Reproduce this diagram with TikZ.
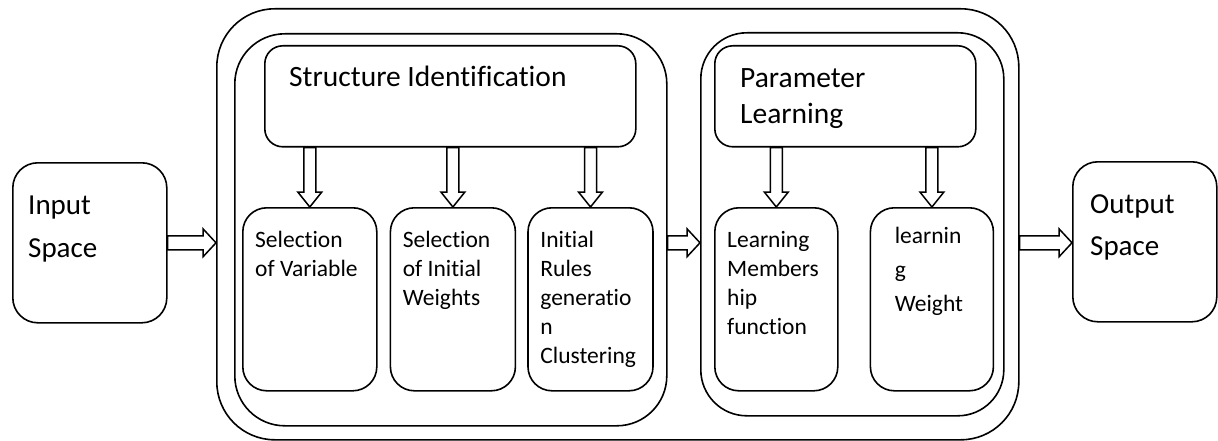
\documentclass[tikz,border=0pt]{standalone}
\usepackage{fontspec}
\setmainfont{Carlito}[Ligatures=NoCommon]
\usetikzlibrary{positioning, calc}
\tikzset{
  panel/.style = {
    rectangle, draw=black, line width=1.6pt,
    inner sep=0pt, anchor=north west
  },
  hdrbox/.style = {
    rectangle, rounded corners=18pt, draw=black, line width=1.6pt,
    inner sep=0pt, anchor=north west, minimum height=101pt
  },
  box/.style = {
    rectangle, rounded corners=24pt, draw=black, line width=1.6pt,
    inner sep=0pt, minimum height=183pt
  },
  iobox/.style = {
    rectangle, rounded corners=25pt, draw=black, line width=1.6pt,
    inner sep=0pt, anchor=north west, minimum height=160pt
  },
  txt/.style = {inner sep=0pt, anchor=north west, align=left,
    font=\fontsize{23.5}{29}\selectfont},
  hdrtxt/.style = {txt, font=\fontsize{29.5}{36}\selectfont},
  iotxt/.style = {txt, font=\fontsize{29}{42.5}\selectfont},
  harr/.style = {draw=black, fill=white, line width=1.5pt,
    to path={let \p1=(\tikztostart), \p2=(\tikztotarget) in
      (\x1,\y1+7pt) -- (\x2-13pt,\y1+7pt) -- (\x2-13pt,\y1+14pt) -- (\x2,\y1)
      -- (\x2-13pt,\y1-14pt) -- (\x2-13pt,\y1-7pt) -- (\x1,\y1-7pt) -- cycle}},
  varr/.style = {draw=black, fill=white, line width=1.5pt,
    to path={let \p1=(\tikztostart), \p2=(\tikztotarget) in
      (\x2-6pt,\y1) -- (\x2-6pt,\y2+15pt) -- (\x2-12pt,\y2+15pt) -- (\x2,\y2)
      -- (\x2+12pt,\y2+15pt) -- (\x2+6pt,\y2+15pt) -- (\x2+6pt,\y1) -- cycle}}
}
\begin{document}
\begin{tikzpicture}[x=1pt, y=-1pt]
\useasboundingbox[fill=white] (0,0) rectangle (1218,441);

% outer frame and the two stages
\node[panel, rounded corners=58pt, minimum width=802pt, minimum height=431pt] (outer) at (216,8) {};
\node[panel, rounded corners=50pt, minimum width=432pt, minimum height=392pt] (sbox) at (234,33) {};
\node[panel, rounded corners=46pt, minimum width=303pt, minimum height=383pt] (pbox) at (700,32) {};

% input / output
\node[iobox, minimum width=154pt] (inp) at (12,162) {};
\node[iotxt] (inpt) at ([shift={(16pt,-34pt)}]inp.north west) {Input\\Space};
\node[iobox, minimum width=144pt] (out) at (1072,161) {};
\node[iotxt] (outt) at ([shift={(18pt,-33pt)}]out.north west) {Output\\Space};

% structure identification
\node[hdrbox, minimum width=371pt] (shdr) at (264,45) {};
\node[hdrtxt] (shdrt) at ([shift={(25pt,-21pt)}]shdr.north west) {Structure Identification};
\node[box, anchor=north west, minimum width=134pt] (v1) at (242,207) {};
\node[box, right=12pt of v1, minimum width=125pt] (v2) {};
\node[box, right=11pt of v2, minimum width=125pt] (v3) {};
\node[txt] (v1t) at ([shift={(13pt,-24pt)}]v1.north west) {Selection\\of Variable};
\node[txt] (v2t) at ([shift={(13pt,-24pt)}]v2.north west) {Selection\\of Initial\\Weights};
\node[txt] (v3t) at ([shift={(13pt,-24pt)}]v3.north west) {Initial\\Rules\\generatio\\n\\Clustering};

% parameter learning
\node[hdrbox, minimum width=261pt] (phdr) at (714,45) {};
\node[hdrtxt] (phdrt) at ([shift={(26pt,-23pt)}]phdr.north west) {Parameter\\Learning};
\node[box, anchor=north west, minimum width=123pt] (p1) at (714,207) {};
\node[box, right=31pt of p1, minimum width=123pt] (p2) {};
\node[txt] (p1t) at ([shift={(13pt,-24pt)}]p1.north west) {Learning\\Members\\hip\\function};
\node[txt, font=\fontsize{23.5}{34}\selectfont] (p2t) at ([shift={(25pt,-20pt)}]p2.north west) {learnin\\g\\Weight};

% arrows
\coordinate (sx) at (sbox.east |- inp.east);
\coordinate (ox) at (outer.east |- inp.east);
\draw[harr] (inp.east) to (outer.west);
\draw[harr] (sx) to (pbox.west);
\draw[harr] (ox) to (out.west);
\foreach \b in {v1, v2, v3}
  \draw[varr] (shdr.south) to (\b.north);
\foreach \b in {p1, p2}
  \draw[varr] (phdr.south) to (\b.north);

\end{tikzpicture}
\end{document}
